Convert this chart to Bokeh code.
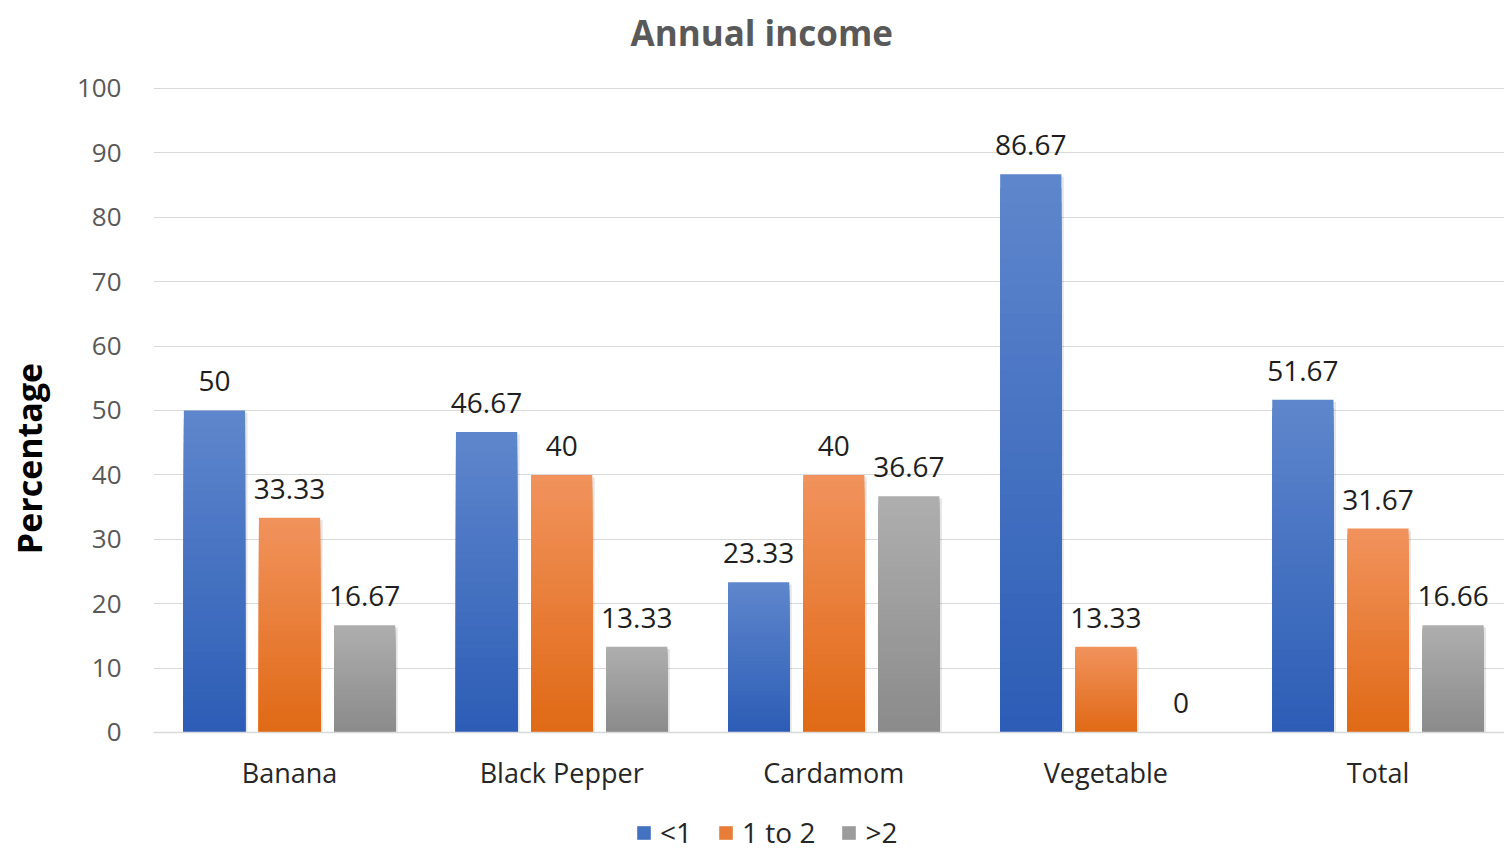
import numpy as np
from bokeh.plotting import figure
from bokeh.core.properties import value
from bokeh.models import (ColumnDataSource, FixedTicker, Legend, LegendItem,
                          Range1d, LabelSet, Title)
from bokeh.embed import file_html
from bokeh.resources import INLINE

# ---- data ----
categories = ["Banana", "Black Pepper", "Cardamom", "Vegetable", "Total"]
series_names = ["<1", "1 to 2", ">2"]
less_than_1 = [50, 46.67, 23.33, 86.67, 51.67]
one_to_two = [33.33, 40, 40, 13.33, 31.67]
more_than_2 = [16.67, 13.33, 36.67, 0, 16.66]
y_ticks = [0, 10, 20, 30, 40, 50, 60, 70, 80, 90, 100]

series_values = [less_than_1, one_to_two, more_than_2]
# (top colour, bottom colour)
series_colors = [("#5E86CC", "#2D5DB6"),
                 ("#F1925C", "#E06A16"),
                 ("#AEAEAE", "#8B8B8B")]
offsets = [-0.276, 0.0, 0.276]
bar_w = 0.225
FONT = "Open Sans"
N_STEPS = 40


def hex_to_rgb(h):
    h = h.lstrip("#")
    return np.array([int(h[i:i + 2], 16) for i in (0, 2, 4)], dtype=float)


def blend(c1, c2, t):
    a, b = hex_to_rgb(c1), hex_to_rgb(c2)
    r = a + (b - a) * t
    return "#%02x%02x%02x" % tuple(int(round(v)) for v in r)


# frame spans the category-label and legend rows below zero as well
p = figure(width=1504, height=851, output_backend="svg", toolbar_location=None,
           x_range=Range1d(-0.5, 4.465), y_range=Range1d(-18.48, 103.57),
           min_border_left=153, min_border_right=0, min_border_top=65,
           min_border_bottom=0, title=None)
p.outline_line_color = None
p.background_fill_color = "white"
p.border_fill_color = "white"

# ---- bars: vertical gradient built from nested bars of decreasing height ----
legend_items = []
n_cat = len(categories)
xs_base = np.arange(n_cat, dtype=float)
for vals, (c_top, c_bot), off, name in zip(series_values, series_colors, offsets, series_names):
    vals = np.array(vals, dtype=float)
    xs = xs_base + off

    # soft drop shadow on the right side
    shadow = ColumnDataSource(dict(x=xs + 0.009, top=np.maximum(vals - 0.35, 0)))
    p.vbar(x="x", top="top", bottom=0, width=bar_w, source=shadow,
           fill_color="#000000", fill_alpha=0.10, line_color=None)

    gx, gtop, gcol = [], [], []
    for k in range(N_STEPS):
        frac = (N_STEPS - k) / N_STEPS
        col = blend(c_top, c_bot, k / (N_STEPS - 1))
        for x, v in zip(xs, vals):
            gx.append(x)
            gtop.append(v * frac)
            gcol.append(col)
    src = ColumnDataSource(dict(x=gx, top=gtop, color=gcol))
    bars = p.vbar(x="x", top="top", bottom=0, width=bar_w, source=src,
                  fill_color="color", line_color=None)

    # value labels
    lab_src = ColumnDataSource(dict(x=xs, y=vals, text=[f"{v:g}" for v in vals]))
    p.add_layout(LabelSet(x="x", y="y", text="text", source=lab_src,
                          text_align="center", text_baseline="bottom", y_offset=19,
                          text_font=value(FONT), text_font_size="28px",
                          text_color="#1e1e1e"))

    # legend swatch takes the mid-gradient colour of the series
    legend_items.append(LegendItem(label=name, renderers=[bars],
                                   index=(N_STEPS // 2) * n_cat))

# ---- axes ----
p.xaxis.fixed_location = 0
p.xaxis.ticker = FixedTicker(ticks=list(range(n_cat)))
p.xaxis.major_label_overrides = {i: c for i, c in enumerate(categories)}
p.xaxis.major_label_text_font = FONT
p.xaxis.major_label_text_font_size = "27px"
p.xaxis.major_label_text_color = "#262626"
p.xaxis.major_label_standoff = 16
p.xaxis.major_tick_line_color = None
p.xaxis.minor_tick_line_color = None
p.xaxis.axis_line_color = "#D9D9D9"
p.xaxis.axis_line_width = 1.5

p.yaxis.ticker = FixedTicker(ticks=y_ticks)
p.yaxis.major_label_text_font = FONT
p.yaxis.major_label_text_font_size = "26px"
p.yaxis.major_label_text_color = "#595959"
p.yaxis.major_label_standoff = 26
p.yaxis.major_tick_line_color = None
p.yaxis.minor_tick_line_color = None
p.yaxis.axis_line_color = None
p.yaxis.axis_label = "Percentage"
p.yaxis.axis_label_text_font = FONT
p.yaxis.axis_label_text_font_size = "34px"
p.yaxis.axis_label_text_font_style = "bold"
p.yaxis.axis_label_text_color = "#000000"
p.yaxis.axis_label_standoff = 22

p.xgrid.grid_line_color = None
p.ygrid.grid_line_color = "#D9D9D9"
p.ygrid.grid_line_width = 1

# ---- title ----
p.add_layout(Title(text="Annual income", align="left", offset=477, standoff=16,
                   text_font=FONT, text_font_size="35px", text_font_style="bold",
                   text_color="#595959", vertical_align="top"), "above")

# ---- legend ----
legend = Legend(items=legend_items, orientation="horizontal", location=(482, 0),
                label_text_font=FONT, label_text_font_size="28px",
                label_text_line_height=1.0, label_height=28,
                label_text_color="#262626", glyph_width=17, glyph_height=17,
                spacing=25, label_standoff=8, border_line_color=None,
                background_fill_alpha=0, padding=0, margin=0)
p.add_layout(legend, "center")

open("out.html", "w").write(file_html(p, INLINE))
